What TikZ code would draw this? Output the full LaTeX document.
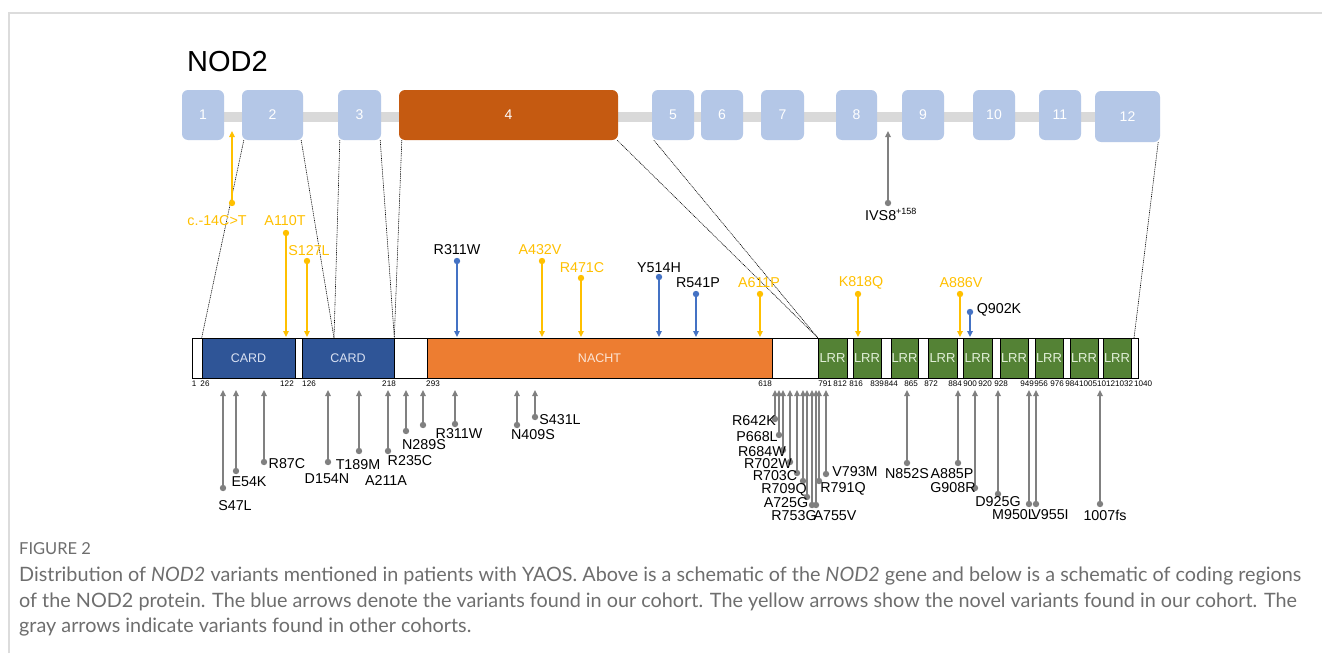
\documentclass[tikz,border=0pt]{standalone}
\usepackage{fontspec}
\setmainfont{Liberation Sans}
\newfontfamily\capfont{Lato}
\usetikzlibrary{arrows.meta}
\definecolor{exonblue}{HTML}{B4C7E7}
\definecolor{exonorange}{HTML}{C55A11}
\definecolor{introngray}{HTML}{D9D9D9}
\definecolor{cardblue}{HTML}{2F5597}
\definecolor{cardtext}{HTML}{D9E1F2}
\definecolor{nachtorange}{HTML}{ED7D31}
\definecolor{nachttext}{HTML}{FBE5D6}
\definecolor{lrrgreen}{HTML}{548235}
\definecolor{lrrtext}{HTML}{E2F0D9}
\definecolor{yel}{HTML}{FFC000}
\definecolor{blu}{HTML}{4472C4}
\definecolor{gvar}{HTML}{808080}
\definecolor{capgray}{HTML}{6E6E6E}
\definecolor{framegray}{HTML}{DCDCDC}
\newcommand{\tvar}[8]{%
  \coordinate (#1d) at (#3,#4);
  \coordinate (#1t) at (#3,337);
  \draw[varr,#2] (#1d) -- (#1t);
  \fill[#2] (#1d) circle[radius=3.2pt];
  \node[vlab,text=#6] (#1l) at (#7,#8) {#5};
}
\newcommand{\bvar}[6]{%
  \coordinate (#1d) at (#2,#3);
  \coordinate (#1t) at (#2,390);
  \draw[varr,gvar] (#1d) -- (#1t);
  \fill[gvar] (#1d) circle[radius=3.2pt];
  \node[vlab] (#1l) at (#5,#6) {#4};
}
\begin{document}
\begin{tikzpicture}[x=1pt,y=-1pt,
  exon/.style={fill=exonblue, draw=none, rounded corners=6pt, minimum height=50pt, inner sep=0pt, text=white, font=\fontsize{14}{16}\selectfont},
  dom/.style={draw=black, line width=0.6pt, minimum height=40pt, inner sep=0pt, font=\fontsize{12.5}{14}\selectfont},
  card/.style={dom, fill=cardblue, text=cardtext},
  nacht/.style={dom, fill=nachtorange, text=nachttext},
  lrr/.style={dom, fill=lrrgreen, text=lrrtext, font=\fontsize{13}{14}\selectfont},
  conn/.style={black, line width=0.6pt, dash pattern=on 1pt off 0.8pt},
  varr/.style={line width=1.5pt, -{Triangle[length=6pt,width=5.5pt]}},
  vlab/.style={inner sep=0pt, font=\fontsize{14.3}{16}\selectfont},
  tick/.style={inner sep=0pt, font=\fontsize{8.1}{9}\selectfont},
  capt/.style={inner sep=0pt, anchor=base west, text=capgray, font=\capfont\fontsize{19.8}{22}\selectfont},
]
\useasboundingbox (0,0) rectangle (1322,653);
\fill[white] (0,0) rectangle (1322,653);
\draw[framegray, line width=1.3pt] (9,653) -- (9,13) -- (1322,13);

% title
\node[inner sep=0pt, anchor=base west, font=\fontsize{29}{32}\selectfont] (title) at (187,71) {NOD2};

% gene
\coordinate (intronL) at (195,117);
\coordinate (intronR) at (1150,117);
\draw[introngray, line width=10pt] (intronL) -- (intronR);
\node[exon, minimum width=42pt] (e1) at (203,115) {1};
\node[exon, minimum width=61pt] (e2) at (272.5,115) {2};
\node[exon, minimum width=43pt] (e3) at (359.5,115) {3};
\node[exon, minimum width=219pt, fill=exonorange] (e4) at (508.5,115) {4};
\node[exon, minimum width=42pt] (e5) at (673,115) {5};
\node[exon, minimum width=42pt] (e6) at (722,115) {6};
\node[exon, minimum width=43pt] (e7) at (782.5,115) {7};
\node[exon, minimum width=41pt] (e8) at (856.5,115) {8};
\node[exon, minimum width=42pt] (e9) at (923,115) {9};
\node[exon, minimum width=42pt] (e10) at (994,115) {10};
\node[exon, minimum width=42pt] (e11) at (1060,115) {11};
\node[exon, minimum width=65pt, minimum height=51pt] (e12) at (1127.5,116.5) {12};

% protein
\node[dom, minimum width=946pt, fill=white] (bar) at (665,358) {};
\node[card, minimum width=93pt] (card1) at (248.5,358) {CARD};
\node[card, minimum width=92pt] (card2) at (348,358) {CARD};
\node[nacht, minimum width=345pt] (nacht) at (599.5,358) {NACHT};
\node[lrr, minimum width=29pt] (l1) at (832.5,358) {LRR};
\node[lrr, minimum width=28pt] (l2) at (867,358) {LRR};
\node[lrr, minimum width=27pt] (l3) at (904.5,358) {LRR};
\node[lrr, minimum width=29pt] (l4) at (942.5,358) {LRR};
\node[lrr, minimum width=29pt] (l5) at (977.5,358) {LRR};
\node[lrr, minimum width=28pt] (l6) at (1014,358) {LRR};
\node[lrr, minimum width=28pt] (l7) at (1049,358) {LRR};
\node[lrr, minimum width=28pt] (l8) at (1084,358) {LRR};
\node[lrr, minimum width=28pt] (l9) at (1117,358) {LRR};

% exon-to-protein connectors
\coordinate (m2) at (334,338);
\coordinate (pend) at (1134,338);
\draw[conn] ([xshift=2pt]e2.south west) -- (card1.north west);
\draw[conn] ([xshift=-2pt]e2.south east) -- (m2);
\draw[conn] ([xshift=2pt]e3.south west) -- (m2);
\draw[conn] ([xshift=-1pt]e3.south east) -- (card2.north east);
\draw[conn] ([xshift=3pt]e4.south west) -- (card2.north east);
\draw[conn] ([xshift=-1pt]e4.south east) -- (l1.north west);
\draw[conn] ([xshift=2pt]e5.south west) -- (l1.north west);
\draw[conn] ([xshift=-2pt]e12.south east) -- (pend);

% tick labels
\foreach \n/\x in {1/194,26/205,122/287,126/309,218/389,293/433,618/765,791/825,812/840,816/856,839/877,844/891,865/911,872/931,884/955,900/970,920/985,928/1001,949/1027,956/1041,976/1057,984/1072,1005/1088,1012/1106,1032/1124,1040/1143}
  \node[tick] (k\n) at (\x,384) {\n};

% intronic variants
\coordinate (c14d) at (232,203);
\coordinate (c14t) at (232,131);
\draw[varr,yel] (c14d) -- (c14t);
\fill[yel] (c14d) circle[radius=3.2pt];
\node[vlab,text=yel] (c14l) at (217,221) {c.-14C>T};
\coordinate (ivsd) at (888,203);
\coordinate (ivst) at (888,131);
\draw[varr,gvar] (ivsd) -- (ivst);
\fill[gvar] (ivsd) circle[radius=3.2pt];
\node[vlab, anchor=base west] (ivsl) at (865,220) {IVS8\textsuperscript{\fontsize{9}{10}\selectfont+158}};

% variants above the protein
\tvar{tA110T}{yel}{286}{233}{A110T}{yel}{285}{221}
\tvar{tS127L}{yel}{307}{261}{S127L}{yel}{309}{251}
\tvar{tR311W}{blu}{457}{261}{R311W}{black}{457}{250}
\tvar{tA432V}{yel}{542}{261}{A432V}{yel}{540}{250}
\tvar{tR471C}{yel}{581}{278}{R471C}{yel}{582}{268}
\tvar{tY514H}{blu}{659}{277}{Y514H}{black}{659}{268}
\tvar{tR541P}{blu}{696}{294}{R541P}{black}{698}{283}
\tvar{tA611P}{yel}{760}{294}{A611P}{yel}{759}{283}
\tvar{tK818Q}{yel}{858}{294}{K818Q}{yel}{861}{283}
\tvar{tA886V}{yel}{960}{294}{A886V}{yel}{961}{283}
\tvar{tQ902K}{blu}{970}{312}{Q902K}{black}{999}{310}

% variants below the protein
\bvar{bS47L}{223}{488}{S47L}{235}{506}
\bvar{bE54K}{236}{471}{E54K}{249}{482}
\bvar{bR87C}{264}{462}{R87C}{287}{464}
\bvar{bD154N}{328}{462}{D154N}{327}{479}
\bvar{bT189M}{359}{451}{T189M}{358}{465}
\bvar{bA211A}{388}{451}{A211A}{386}{481}
\bvar{bR235C}{406}{431}{R235C}{410}{461}
\bvar{bN289S}{423}{425}{N289S}{424}{445}
\bvar{bR311W}{455}{424}{R311W}{459}{434}
\bvar{bN409S}{517}{425}{N409S}{533}{435}
\bvar{bS431L}{535}{417}{S431L}{560}{420}
\bvar{bR642K}{775}{419}{R642K}{754}{421}
\bvar{bP668L}{779}{435}{P668L}{757}{437}
\bvar{bR684W}{783}{450}{R684W}{762}{452}
\bvar{bR702W}{790}{462}{R702W}{768}{464}
\bvar{bR703C}{797}{473}{R703C}{775}{476}
\bvar{bR709Q}{803}{481}{R709Q}{784}{490}
\bvar{bA725G}{807}{497}{A725G}{786}{503}
\bvar{bR753G}{812}{505}{R753G}{794}{516}
\bvar{bA755V}{816}{505}{A755V}{835}{516}
\bvar{bR791Q}{819}{481}{R791Q}{843}{489}
\bvar{bV793M}{826}{474}{V793M}{855}{472}
\bvar{bN852S}{907}{463}{N852S}{907}{474}
\bvar{bA885P}{958}{463}{A885P}{952}{474}
\bvar{bG908R}{975}{488}{G908R}{953}{488}
\bvar{bD925G}{998}{494}{D925G}{998}{502}
\bvar{bM950L}{1029}{504}{M950L}{1014}{515}
\bvar{bV955I}{1036}{504}{V955I}{1050}{515}
\bvar{b1007fs}{1100}{504}{1007fs}{1105}{515}

% caption
\node[capt, font=\capfont\fontsize{16.5}{18}\selectfont] (cap0) at (19,554) {FIGURE 2};
\node[capt] (cap1) at (19,581) {Distribution of \textit{NOD2} variants mentioned in patients with YAOS. Above is a schematic of the \textit{NOD2} gene and below is a schematic of coding regions};
\node[capt] (cap2) at (19,607) {of the NOD2 protein. The blue arrows denote the variants found in our cohort. The yellow arrows show the novel variants found in our cohort. The};
\node[capt] (cap3) at (19,632) {gray arrows indicate variants found in other cohorts.};
\end{tikzpicture}
\end{document}
